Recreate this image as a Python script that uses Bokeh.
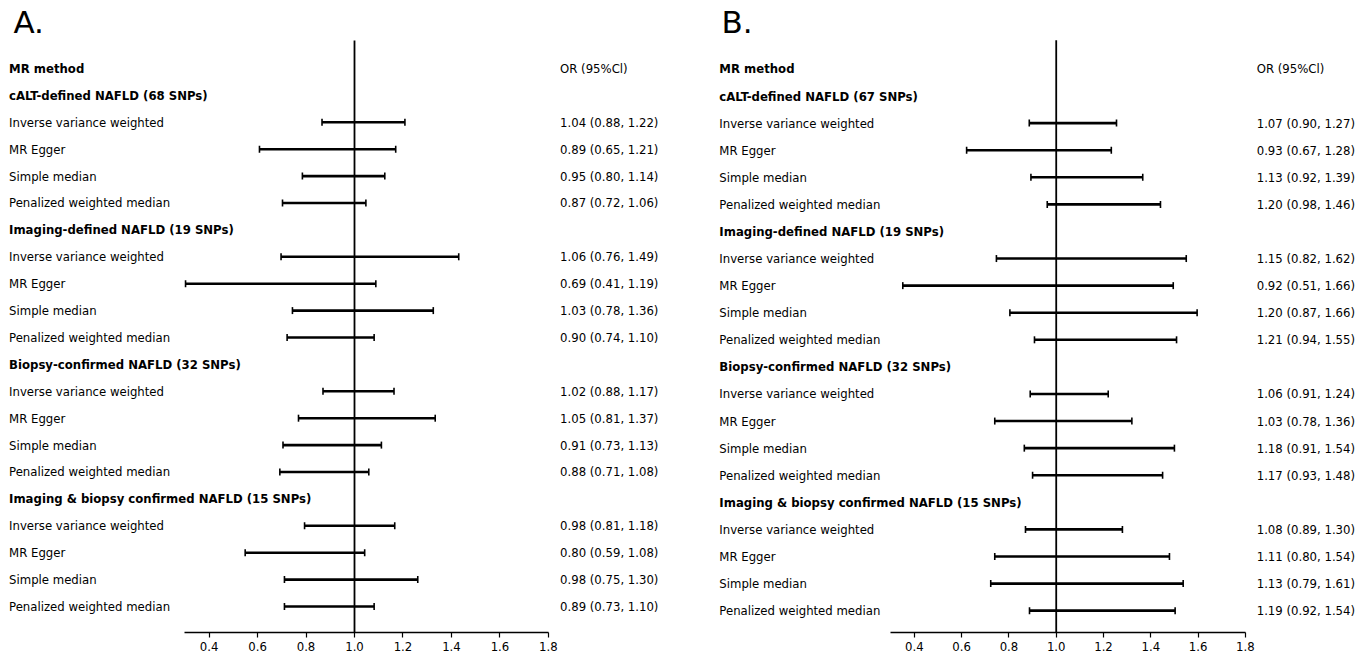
from bokeh.plotting import figure
from bokeh.layouts import row
from bokeh.models import Range1d, FixedTicker, ColumnDataSource, PrintfTickFormatter
from bokeh.core.properties import value
from bokeh.embed import file_html
from bokeh.resources import INLINE
import math

FONT = "DejaVu Sans Condensed"

methods = ["Inverse variance weighted", "MR Egger", "Simple median", "Penalized weighted median"]

groups_A = ["cALT-defined NAFLD (68 SNPs)", "Imaging-defined NAFLD (19 SNPs)",
            "Biopsy-confirmed NAFLD (32 SNPs)", "Imaging & biopsy confirmed NAFLD (15 SNPs)"]
or_A = [1.04, 0.89, 0.95, 0.87, 1.06, 0.69, 1.03, 0.90, 1.02, 1.05, 0.91, 0.88, 0.98, 0.80, 0.98, 0.89]
ci_lo_A = [0.88, 0.65, 0.80, 0.72, 0.76, 0.41, 0.78, 0.74, 0.88, 0.81, 0.73, 0.71, 0.81, 0.59, 0.75, 0.73]
ci_hi_A = [1.22, 1.21, 1.14, 1.06, 1.49, 1.19, 1.36, 1.10, 1.17, 1.37, 1.13, 1.08, 1.18, 1.08, 1.30, 1.10]
bar_lo_A = [0.866, 0.608, 0.785, 0.703, 0.697, 0.303, 0.744, 0.722, 0.870, 0.769, 0.705, 0.692, 0.794, 0.549, 0.711, 0.711]
bar_hi_A = [1.208, 1.170, 1.125, 1.047, 1.430, 1.088, 1.325, 1.081, 1.163, 1.333, 1.111, 1.059, 1.166, 1.042, 1.261, 1.081]

groups_B = ["cALT-defined NAFLD (67 SNPs)", "Imaging-defined NAFLD (19 SNPs)",
            "Biopsy-confirmed NAFLD (32 SNPs)", "Imaging & biopsy confirmed NAFLD (15 SNPs)"]
or_B = [1.07, 0.93, 1.13, 1.20, 1.15, 0.92, 1.20, 1.21, 1.06, 1.03, 1.18, 1.17, 1.08, 1.11, 1.13, 1.19]
ci_lo_B = [0.90, 0.67, 0.92, 0.98, 0.82, 0.51, 0.87, 0.94, 0.91, 0.78, 0.91, 0.93, 0.89, 0.80, 0.79, 0.92]
ci_hi_B = [1.27, 1.28, 1.39, 1.46, 1.62, 1.66, 1.66, 1.55, 1.24, 1.36, 1.54, 1.48, 1.30, 1.54, 1.61, 1.54]
bar_lo_B = [0.886, 0.621, 0.893, 0.962, 0.747, 0.351, 0.804, 0.908, 0.89, 0.74, 0.865, 0.90, 0.87, 0.740, 0.723, 0.887]
bar_hi_B = [1.255, 1.233, 1.366, 1.441, 1.550, 1.495, 1.596, 1.509, 1.22, 1.32, 1.50, 1.45, 1.28, 1.479, 1.537, 1.503]

ticks = [0.4, 0.6, 0.8, 1.0, 1.2, 1.4, 1.6, 1.8]

H = 665


def panel(letter, letter_x, groups, ors, los, his, blo, bhi, width, xr, yr, border_bottom, line_top):
    p = figure(width=width, height=H, output_backend="svg", toolbar_location=None,
               x_range=Range1d(*xr), y_range=Range1d(*yr),
               min_border_left=0, min_border_right=0, min_border_top=0,
               min_border_bottom=border_bottom)
    p.outline_line_color = None
    p.xgrid.visible = False
    p.ygrid.visible = False
    p.yaxis.visible = False
    p.background_fill_color = "white"
    p.border_fill_color = "white"

    ax = p.xaxis[0]
    ax.ticker = FixedTicker(ticks=ticks)
    ax.formatter = PrintfTickFormatter(format="%.1f")
    ax.bounds = (0.3, 1.8)
    ax.axis_line_width = 1.6
    ax.axis_line_color = "black"
    ax.major_tick_line_color = "black"
    ax.major_tick_line_width = 1.2
    ax.major_tick_in = 0
    ax.major_tick_out = 5
    ax.minor_tick_line_color = None
    ax.major_label_text_font = FONT
    ax.major_label_text_font_size = "13px"
    ax.major_label_text_color = "black"
    ax.major_label_standoff = 4

    lab_x = -0.425
    or_x = 1.848

    label_txt, label_y, bold_txt, bold_y = [], [], ["MR method"], [0]
    or_txt, or_y = ["OR (95%Cl)"], [0]
    ys = []
    for g in range(4):
        bold_txt.append(groups[g])
        bold_y.append(1 + 5 * g)
        for k in range(4):
            i = 4 * g + k
            yy = 2 + 5 * g + k
            ys.append(yy)
            label_txt.append(methods[k])
            label_y.append(yy)
            or_txt.append(f"{ors[i]:.2f} ({los[i]:.2f}, {his[i]:.2f})")
            or_y.append(yy)

    # reference line at OR = 1
    p.segment(x0=[1.0], y0=[line_top], x1=[1.0], y1=[yr[0]], line_color="black", line_width=1.8)

    src = ColumnDataSource(dict(lo=blo, hi=bhi, y=ys))
    p.segment(x0="lo", y0="y", x1="hi", y1="y", source=src, line_color="black", line_width=2.6)
    p.scatter(x="lo", y="y", source=src, marker="dash", angle=math.pi / 2, size=7,
              line_color="black", line_width=1.6)
    p.scatter(x="hi", y="y", source=src, marker="dash", angle=math.pi / 2, size=7,
              line_color="black", line_width=1.6)

    fs = "13px"
    p.text(x=[lab_x] * len(bold_txt), y=bold_y, text=bold_txt, text_font=value(FONT),
           text_font_style="bold", text_font_size=fs, text_baseline="middle",
           text_color="black")
    p.text(x=[lab_x] * len(label_txt), y=label_y, text=label_txt, text_font=value(FONT),
           text_font_size=fs, text_baseline="middle", text_color="black")
    p.text(x=[or_x] * len(or_txt), y=or_y, text=or_txt, text_font=value(FONT),
           text_font_size=fs, text_baseline="middle", text_color="black")
    p.text(x=[letter_x], y=[-1.73], text=[letter], text_font=value("DejaVu Sans"),
           text_font_size="31px", text_baseline="middle", text_color="black")
    return p


pA = panel("A.", -0.407, groups_A, or_A, ci_lo_A, ci_hi_A, bar_lo_A, bar_hi_A,
           width=700, xr=(-0.4604, 2.4274), yr=(20.967, -2.528), border_bottom=H - 632,
           line_top=-1.04)
pB = panel("B.", -0.416, groups_B, or_B, ci_lo_B, ci_hi_B, bar_lo_B, bar_hi_B,
           width=660, xr=(-0.5047, 2.2871), yr=(20.806, -2.527), border_bottom=H - 642,
           line_top=-1.06)

layout = row(pA, pB)
open("out.html", "w").write(file_html(layout, INLINE))
